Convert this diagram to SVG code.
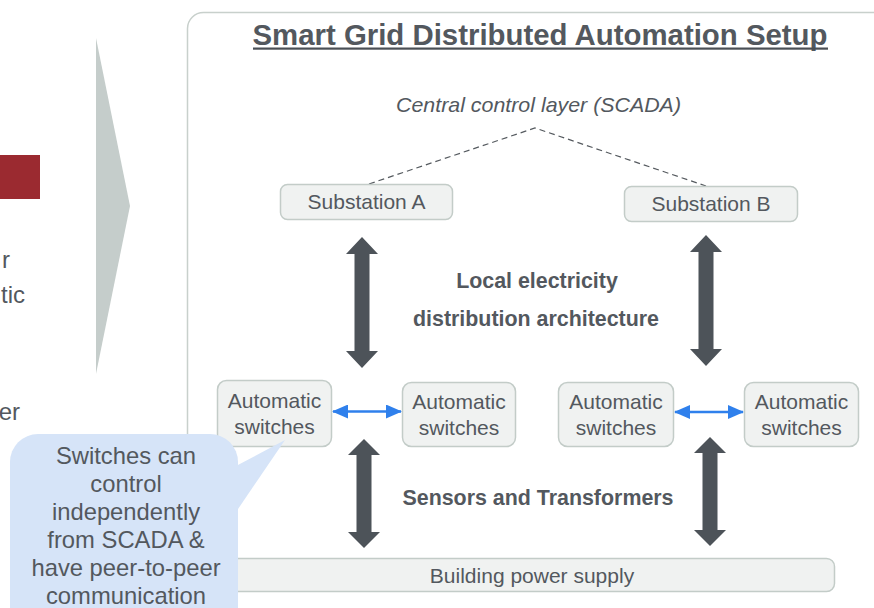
<svg xmlns="http://www.w3.org/2000/svg" width="874" height="608" viewBox="0 0 874 608">
  <style>
    .txt { font-family: "Liberation Sans", Arial, sans-serif; fill: #53585e; }
    .box { fill: #f0f2f1; stroke: #c3ccc8; stroke-width: 1.5; }
    .dbl { fill: #4d5359; }
    .peer { stroke: #2f80ec; stroke-width: 2.5; fill: none; }
    .dash { stroke: #555a5f; stroke-width: 1.2; stroke-dasharray: 6 4; fill: none; }
  </style>
  <defs>
    <marker id="blueHead" markerUnits="userSpaceOnUse" markerWidth="16" markerHeight="14" viewBox="0 0 16 14" refX="15" refY="7" orient="auto-start-reverse">
      <path d="M0,0 L16,7 L0,14 Z" fill="#2f80ec"/>
    </marker>
  </defs>

  <rect width="874" height="608" fill="#ffffff"/>

  <!-- left slide fragment -->
  <g id="left-fragment">
    <rect x="0" y="155" width="40" height="44" fill="#9b2a30"/>
    <text class="txt" x="10" y="268" font-size="24" text-anchor="end">r</text>
    <text class="txt" x="25" y="303" font-size="24" text-anchor="end">tic</text>
    <text class="txt" x="20" y="420" font-size="24" text-anchor="end">er</text>
    <polygon points="96,38 130,206 96,374" fill="#c5cdcb"/>
  </g>

  <!-- main panel -->
  <g id="panel">
    <rect x="187.5" y="12.5" width="720" height="640" rx="16" fill="#ffffff" stroke="#c8d0cc" stroke-width="1.5"/>
    <text class="txt" x="540" y="45" font-size="29" font-weight="bold" text-anchor="middle" fill="#4a4f55" textLength="575" lengthAdjust="spacingAndGlyphs">Smart Grid Distributed Automation Setup</text>
    <rect x="253" y="47.5" width="575" height="2.2" fill="#4a4f55"/>
  </g>

  <g id="scada">
    <text class="txt" x="538.5" y="112" font-size="21" font-style="italic" text-anchor="middle" textLength="285" lengthAdjust="spacingAndGlyphs">Central control layer (SCADA)</text>
  </g>

  <g id="labels">
    <text class="txt" x="537" y="288" font-size="21.4" font-weight="bold" text-anchor="middle">Local electricity</text>
    <text class="txt" x="536" y="326" font-size="21.4" font-weight="bold" text-anchor="middle">distribution architecture</text>
    <text class="txt" x="538" y="505" font-size="21.4" font-weight="bold" text-anchor="middle">Sensors and Transformers</text>
  </g>

  <!-- connectors -->
  <g id="connectors">
    <path class="dash" d="M369,184 L535,128 L706,186"/>
    <path class="dbl" d="M362,237 L378,254 L369.5,254 L369.5,351 L378,351 L362,368 L346,351 L354.5,351 L354.5,254 L346,254 Z"/>
    <path class="dbl" d="M706,235 L722,252 L713.5,252 L713.5,349 L722,349 L706,366 L690,349 L698.5,349 L698.5,252 L690,252 Z"/>
    <path class="dbl" d="M364,439 L380,455 L371.5,455 L371.5,532 L380,532 L364,548 L348,532 L356.5,532 L356.5,455 L348,455 Z"/>
    <path class="dbl" d="M710,437 L726,453 L717.5,453 L717.5,530 L726,530 L710,546 L694,530 L702.5,530 L702.5,453 L694,453 Z"/>
    <line class="peer" x1="333" y1="411.5" x2="401" y2="411.5" marker-start="url(#blueHead)" marker-end="url(#blueHead)"/>
    <line class="peer" x1="675" y1="412" x2="743" y2="412" marker-start="url(#blueHead)" marker-end="url(#blueHead)"/>
  </g>

  <g id="substation-a">
    <rect class="box" x="280.5" y="184.5" width="172" height="35" rx="7"/>
    <text class="txt" x="366.5" y="209" font-size="21" text-anchor="middle">Substation A</text>
  </g>
  <g id="substation-b">
    <rect class="box" x="624.5" y="186.5" width="173" height="35" rx="7"/>
    <text class="txt" x="711" y="211" font-size="21" text-anchor="middle">Substation B</text>
  </g>

  <g id="switch-1">
    <rect class="box" x="217.5" y="380.5" width="114" height="66" rx="9"/>
    <text class="txt" x="274.5" y="408" font-size="21" text-anchor="middle">Automatic</text>
    <text class="txt" x="274.5" y="434" font-size="21" text-anchor="middle">switches</text>
  </g>
  <g id="switch-2">
    <rect class="box" x="402.5" y="382.5" width="113" height="64" rx="9"/>
    <text class="txt" x="459" y="409" font-size="21" text-anchor="middle">Automatic</text>
    <text class="txt" x="459" y="435" font-size="21" text-anchor="middle">switches</text>
  </g>
  <g id="switch-3">
    <rect class="box" x="558.5" y="382.5" width="115" height="64" rx="9"/>
    <text class="txt" x="616" y="409" font-size="21" text-anchor="middle">Automatic</text>
    <text class="txt" x="616" y="435" font-size="21" text-anchor="middle">switches</text>
  </g>
  <g id="switch-4">
    <rect class="box" x="744.5" y="382.5" width="114" height="64" rx="9"/>
    <text class="txt" x="801.5" y="409" font-size="21" text-anchor="middle">Automatic</text>
    <text class="txt" x="801.5" y="435" font-size="21" text-anchor="middle">switches</text>
  </g>

  <g id="building-power-supply">
    <rect class="box" x="200.5" y="558.5" width="634" height="33" rx="8" fill="#f2f4f3"/>
    <text class="txt" x="532" y="583" font-size="21" text-anchor="middle">Building power supply</text>
  </g>

  <!-- callout -->
  <g id="callout">
    <rect x="10" y="434" width="228" height="210" rx="28" fill="#d6e4f8"/>
    <polygon points="236,466 285,440 236,512" fill="#d6e4f8"/>
    <g class="txt" font-size="23.8" text-anchor="middle">
      <text x="126" y="464">Switches can</text>
      <text x="126" y="492">control</text>
      <text x="126" y="520">independently</text>
      <text x="126" y="548">from SCADA &amp;</text>
      <text x="126" y="576">have peer-to-peer</text>
      <text x="126" y="604">communication</text>
    </g>
  </g>
</svg>
